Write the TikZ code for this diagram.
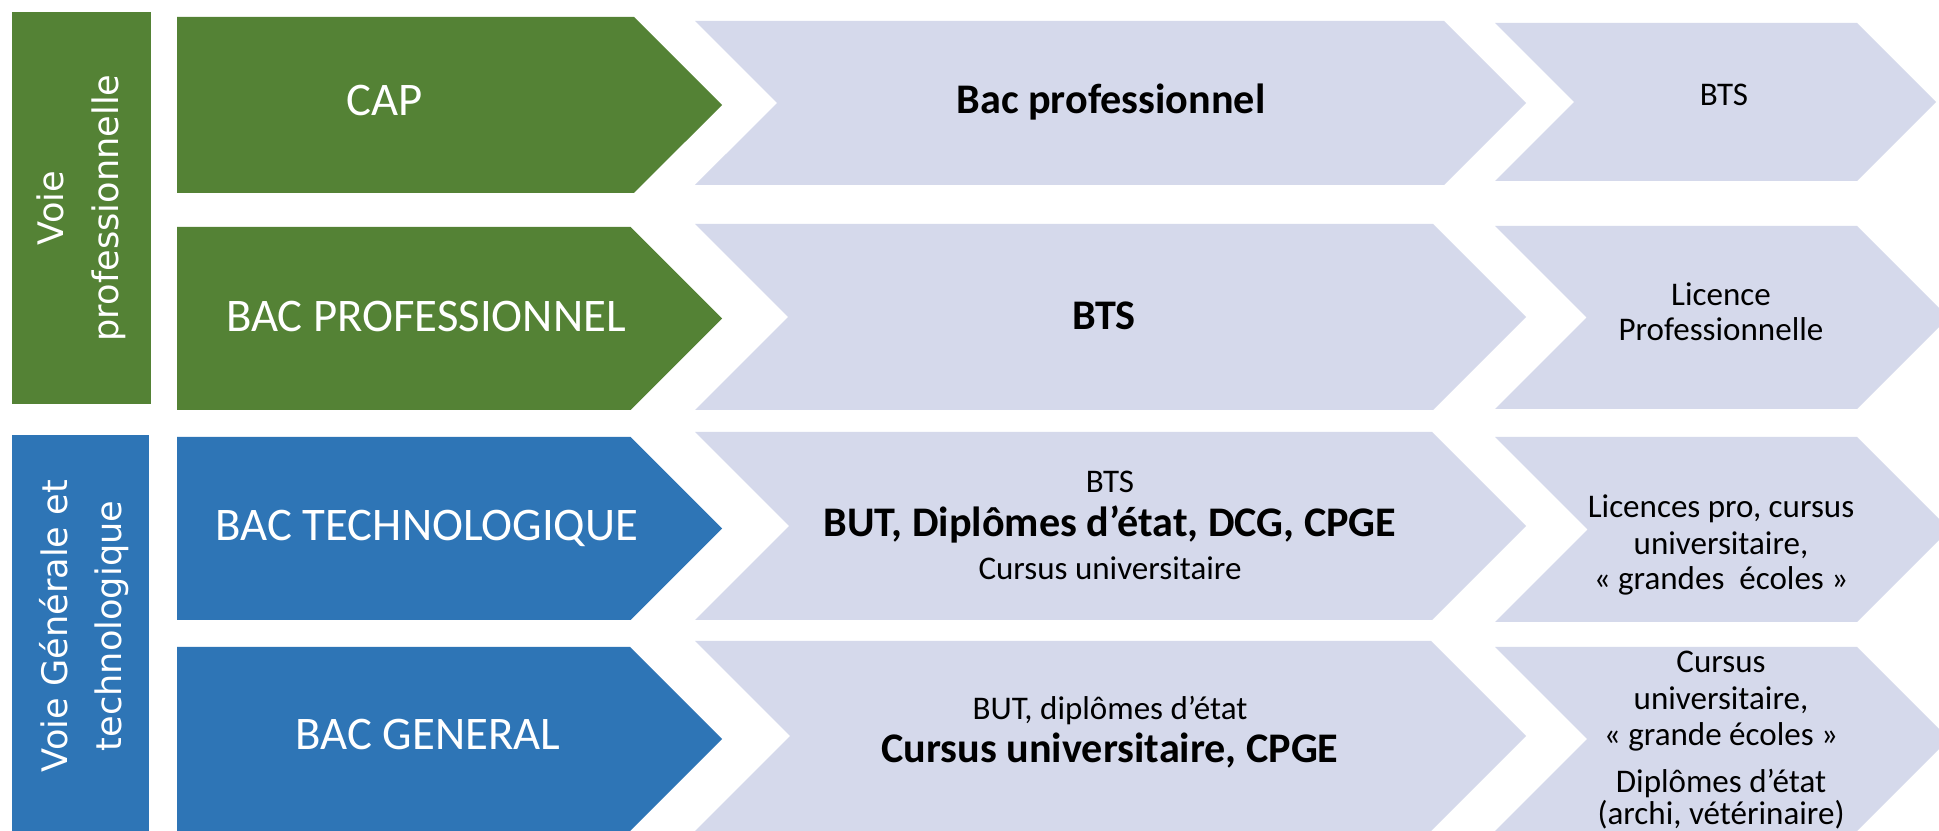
\documentclass[tikz,border=0pt]{standalone}
\usepackage{fontspec}
\setmainfont{Carlito}
\newfontfamily\verdana{DejaVu Sans}
\usepackage{tikz}
\usepackage{color}
\definecolor{vertpro}{HTML}{548235}
\definecolor{bleugt}{HTML}{2E75B6}
\definecolor{lavande}{HTML}{D5D9EB}
\tikzstyle{voie} = [white, rotate=90, align=center, font=\verdana\fontsize{10}{15.5}\selectfont]
\tikzstyle{bac} = [white, anchor=base, font=\fontsize{13.3}{16}\selectfont]
\tikzstyle{gras} = [anchor=base, font=\fontsize{12}{14}\selectfont\bfseries]
\tikzstyle{petit} = [anchor=base, font=\fontsize{9.4}{11}\selectfont]

\begin{document}
\begin{tikzpicture}
    \useasboundingbox[fill=white] (0,0) rectangle (19.39,8.31);

    % --- bandeaux des voies
    \fill[vertpro] (0.12,4.27) rectangle (1.51,8.19);
    \node[voie] (voiepro) at (0.815,6.23) {Voie\\professionnelle};
    \fill[bleugt] (0.12,0) rectangle (1.49,3.96);
    \node[voie] (voiegt) at (0.84,2.05) {Voie Générale et\\technologique};

    % --- fleches de gauche
    \fill[vertpro] (1.77,8.14) -- (6.34,8.14) -- (7.22,7.26) -- (6.34,6.38) -- (1.77,6.38) -- cycle;
    \fill[vertpro] (1.77,6.04) -- (6.305,6.04) -- (7.22,5.125) -- (6.305,4.21) -- (1.77,4.21) -- cycle;
    \fill[bleugt] (1.77,3.94) -- (6.305,3.94) -- (7.22,3.025) -- (6.305,2.11) -- (1.77,2.11) -- cycle;
    \fill[bleugt] (1.77,1.84) -- (6.30,1.84) -- (7.22,0.92) -- (6.30,0) -- (1.77,0) -- cycle;

    % --- fleches du milieu
    \fill[lavande] (6.95,8.10) -- (14.44,8.10) -- (15.26,7.28) -- (14.44,6.46) -- (6.95,6.46) -- (7.77,7.28) -- cycle;
    \fill[lavande] (6.95,6.07) -- (14.33,6.07) -- (15.26,5.14) -- (14.33,4.21) -- (6.95,4.21) -- (7.88,5.14) -- cycle;
    \fill[lavande] (6.95,3.99) -- (14.32,3.99) -- (15.26,3.05) -- (14.32,2.11) -- (6.95,2.11) -- (7.89,3.05) -- cycle;
    \fill[lavande] (6.95,1.90) -- (14.31,1.90) -- (15.26,0.95) -- (14.31,0) -- (6.95,0) -- (7.90,0.95) -- cycle;

    % --- fleches de droite
    \fill[lavande] (14.95,8.08) -- (18.57,8.08) -- (19.36,7.29) -- (18.57,6.50) -- (14.95,6.50) -- (15.74,7.29) -- cycle;
    \fill[lavande] (14.95,6.05) -- (18.57,6.05) -- (19.485,5.135) -- (18.57,4.22) -- (14.95,4.22) -- (15.865,5.135) -- cycle;
    \fill[lavande] (14.95,3.94) -- (18.57,3.94) -- (19.495,3.015) -- (18.57,2.09) -- (14.95,2.09) -- (15.875,3.015) -- cycle;
    \fill[lavande] (14.95,1.84) -- (18.57,1.84) -- (19.49,0.92) -- (18.57,0) -- (14.95,0) -- (15.87,0.92) -- cycle;

    % --- diplomes de depart
    \node[bac] (cap) at (3.85,7.15) {CAP};
    \node[bac] (bacpro) at (4.26,4.99) {BAC PROFESSIONNEL};
    \node[bac] (bactechno) at (4.27,2.90) {BAC TECHNOLOGIQUE};
    \node[bac] (bacgen) at (4.28,0.81) {BAC GENERAL};

    % --- poursuites d'etudes
    \node[gras] (bacpro2) at (11.11,7.17) {Bac professionnel};
    \node[gras] (bts2) at (11.04,5.01) {BTS};
    \node[petit] (bts3) at (11.10,3.38) {BTS};
    \node[gras] (but3) at (11.10,2.94) {BUT, Diplômes d’état, DCG, CPGE};
    \node[petit] (cursus3) at (11.10,2.51) {Cursus universitaire};
    \node[petit] (but4) at (11.10,1.11) {BUT, diplômes d’état};
    \node[gras] (cursus4) at (11.10,0.68) {Cursus universitaire, CPGE};

    % --- et apres
    \node[petit] (bts1) at (17.24,7.25) {BTS};
    \node[petit] (licence) at (17.21,5.25) {Licence};
    \node[petit] (licpro) at (17.21,4.90) {Professionnelle};
    \node[petit] (licences3) at (17.21,3.13) {Licences pro, cursus};
    \node[petit] (univ3) at (17.21,2.76) {universitaire,};
    \node[petit] (ecoles3) at (17.21,2.41) {«~grandes~ écoles~»};
    \node[petit] (cursus5) at (17.21,1.59) {Cursus};
    \node[petit] (univ4) at (17.21,1.21) {universitaire,};
    \node[petit] (ecoles4) at (17.21,0.85) {«~grande écoles~»};
    \node[petit] (etat4) at (17.21,0.38) {Diplômes d’état};
    \node[petit] (archi) at (17.21,0.06) {(archi, vétérinaire)};

\end{tikzpicture}
\end{document}
